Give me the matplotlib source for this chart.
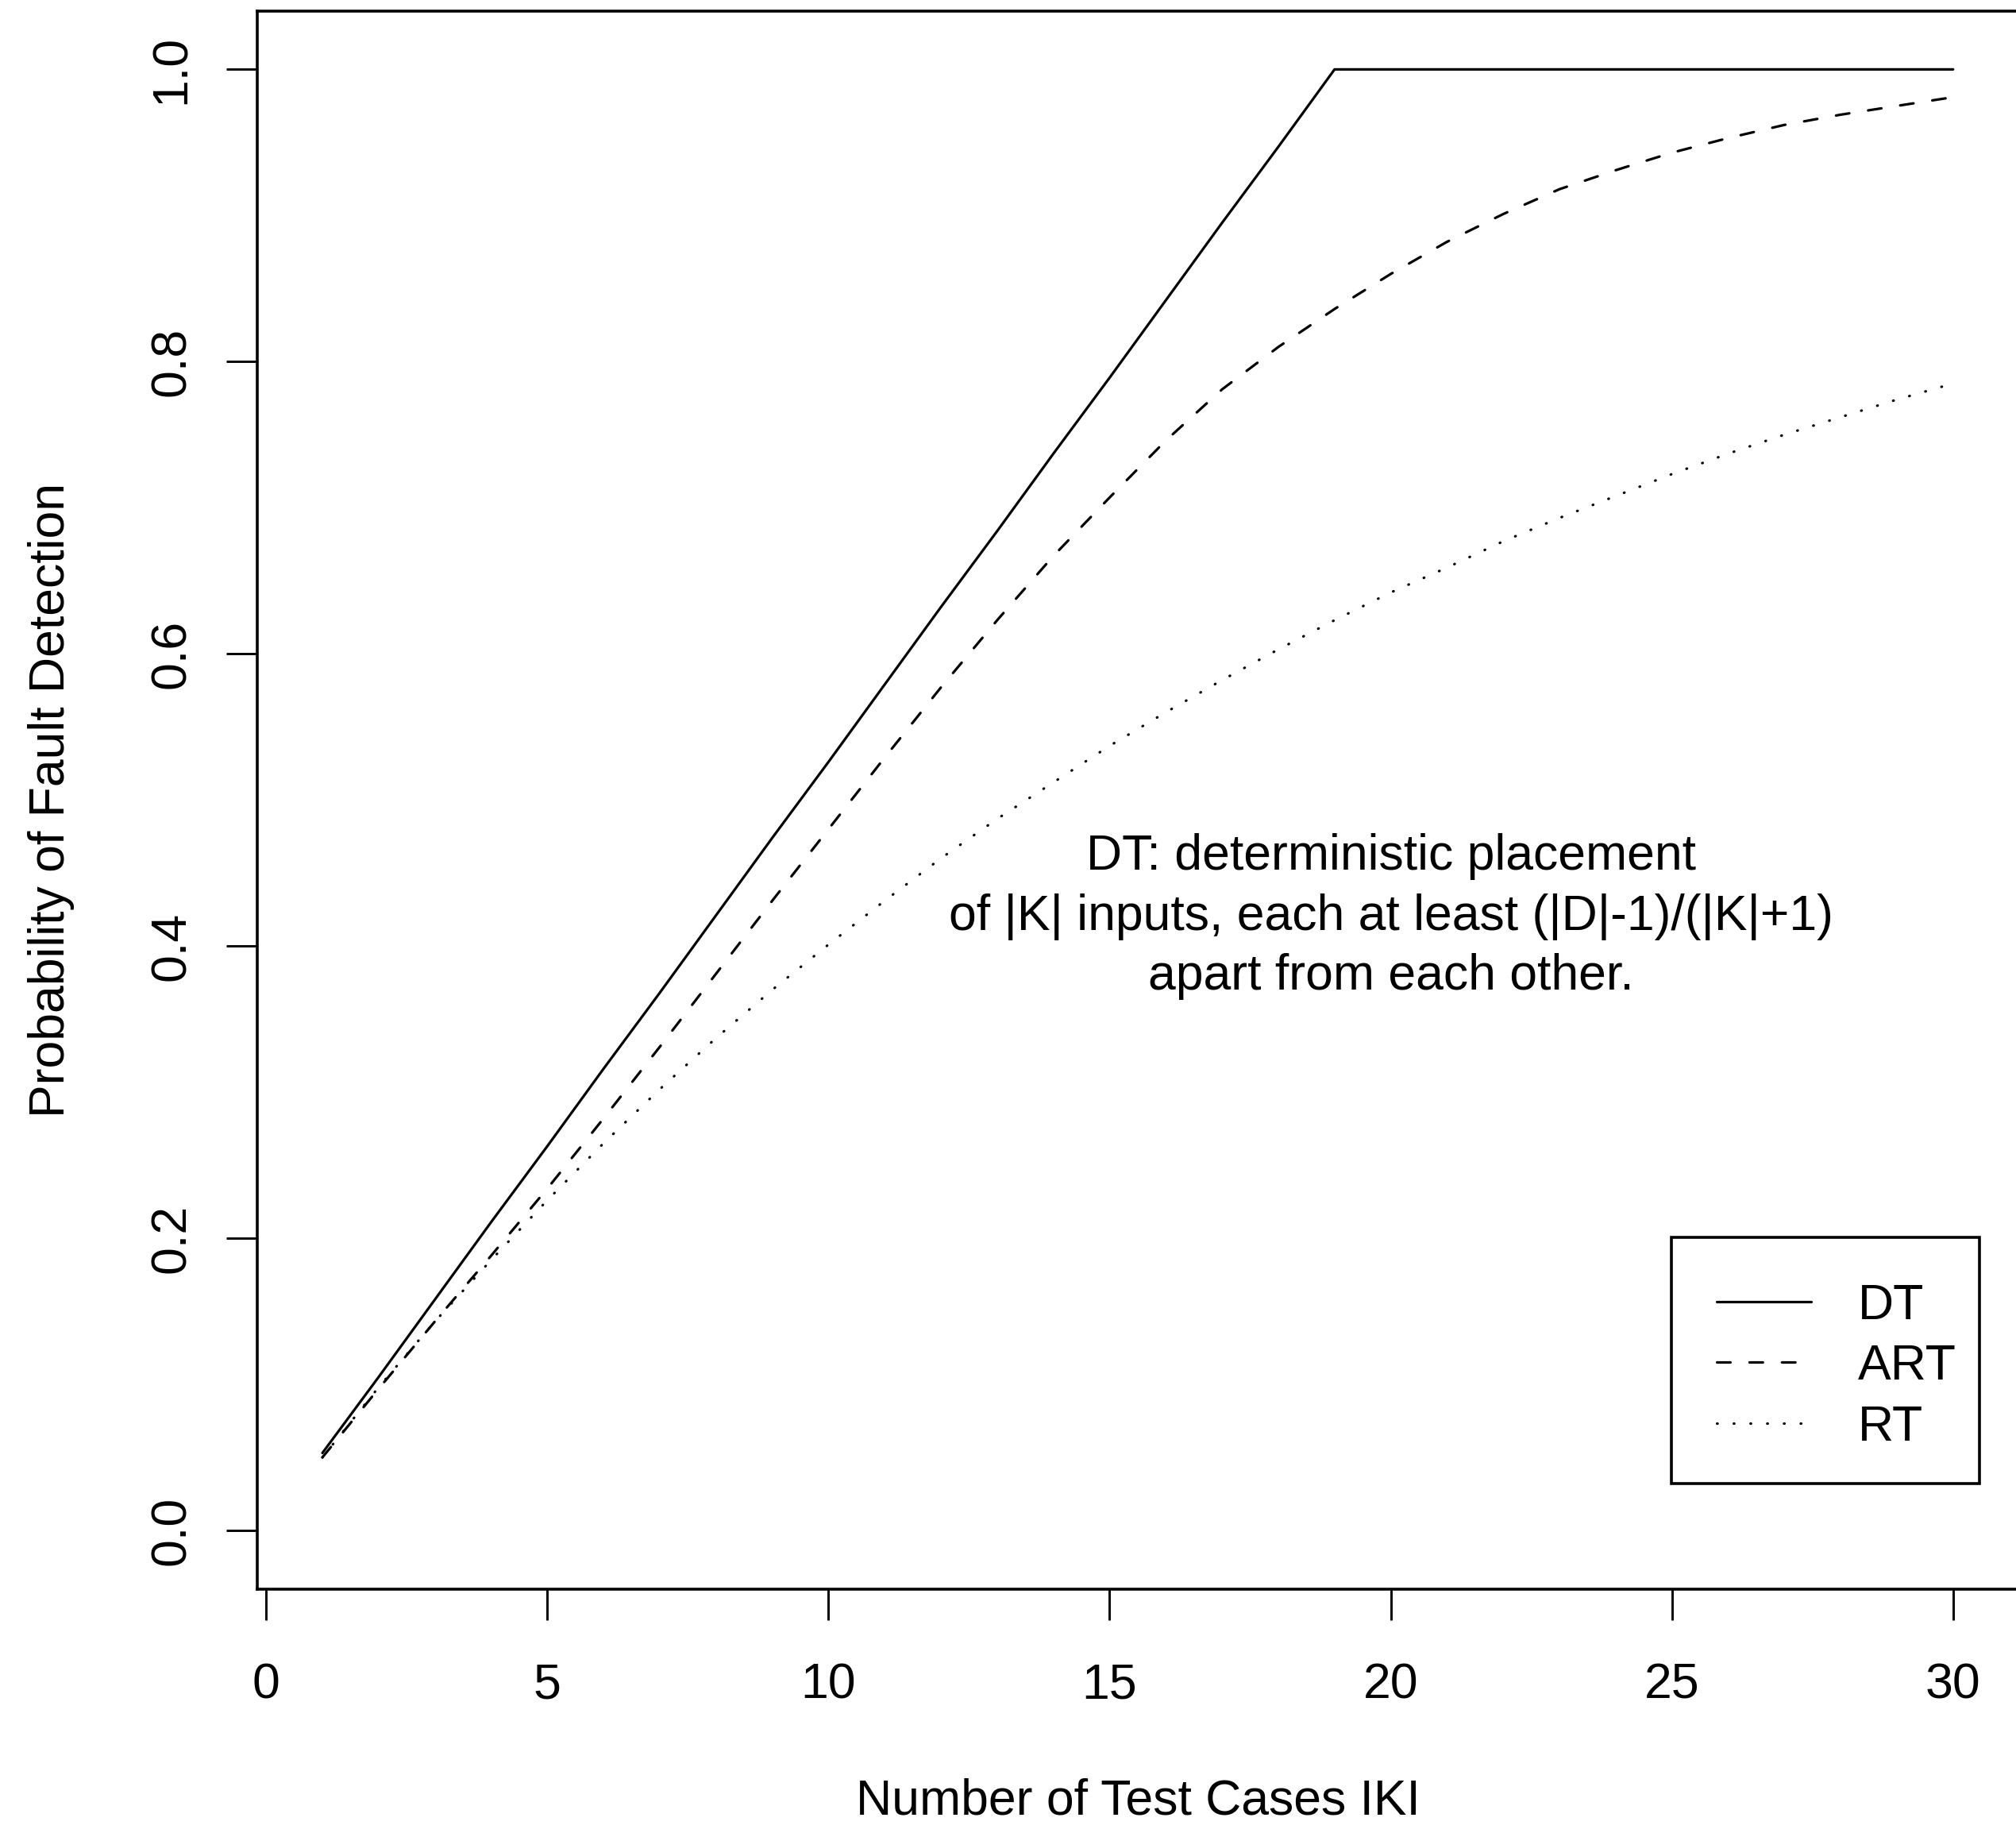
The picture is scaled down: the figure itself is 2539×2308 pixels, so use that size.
import matplotlib
matplotlib.use('Agg')
import matplotlib.pyplot as plt
from matplotlib.patches import Rectangle

plt.rcParams['font.family'] = ['Liberation Sans', 'DejaVu Sans']

# data
k = list(range(1, 31))
dt = [0.053, 0.105, 0.158, 0.211, 0.263, 0.316, 0.368, 0.421, 0.474, 0.526,
      0.579, 0.632, 0.684, 0.737, 0.789, 0.842, 0.895, 0.947, 1.000, 1.000,
      1.000, 1.000, 1.000, 1.000, 1.000, 1.000, 1.000, 1.000, 1.000, 1.000]
art = [0.050, 0.097, 0.143, 0.188, 0.234, 0.282, 0.331, 0.381, 0.431, 0.480,
       0.529, 0.577, 0.623, 0.667, 0.707, 0.746, 0.781, 0.810, 0.836, 0.860,
       0.882, 0.901, 0.918, 0.931, 0.943, 0.953, 0.962, 0.969, 0.975, 0.981]
rt = [0.050, 0.098, 0.143, 0.185, 0.226, 0.265, 0.302, 0.337, 0.370, 0.401,
      0.431, 0.460, 0.487, 0.512, 0.537, 0.560, 0.582, 0.603, 0.623, 0.642,
      0.659, 0.677, 0.693, 0.708, 0.723, 0.737, 0.750, 0.762, 0.774, 0.785]
x_ticks = [0, 5, 10, 15, 20, 25, 30]
y_ticks = [0.0, 0.2, 0.4, 0.6, 0.8, 1.0]
y_ticklabels = ['0.0', '0.2', '0.4', '0.6', '0.8', '1.0']

FS = 45
LW = 2.3

fig = plt.figure(figsize=(25.39, 23.08), dpi=100)
ax = fig.add_axes([0.12757, 0.13319, 0.87357, 0.86083])

ax.plot(k, dt, color='black', lw=LW, linestyle='-', solid_capstyle='round', label='DT')
ax.plot(k, art, color='black', lw=LW, linestyle=(0, (5.3, 7.5)),
        dash_capstyle='round', label='ART')
ax.plot(k, rt, color='black', lw=LW, linestyle=(0, (0.2, 6.4)),
        dash_capstyle='round', label='RT')

ax.set_xlim(-0.16, 31.16)
ax.set_ylim(-0.04, 1.04)
ax.set_xticks(x_ticks)
ax.set_xticklabels([str(v) for v in x_ticks])
ax.set_yticks(y_ticks)
ax.set_yticklabels(y_ticklabels, rotation=90, va='center')

for s in ax.spines.values():
    s.set_linewidth(2.6)
ax.tick_params(direction='out', length=28, width=2.1, labelsize=FS, color='black')
ax.tick_params(axis='x', pad=38)
ax.tick_params(axis='y', pad=28)

ax.set_xlabel('Number of Test Cases IKI', fontsize=FS, va='center')
ax.xaxis.set_label_coords(0.5, -0.1345)
ax.set_ylabel('Probability of Fault Detection', fontsize=FS, va='center', ha='center')
ax.yaxis.set_label_coords(-0.117, 0.5)

ax.text(20, 0.42, 'DT: deterministic placement\nof |K| inputs, each at least (|D|-1)/(|K|+1)\napart from each other.',
        fontsize=FS, ha='center', va='center', multialignment='center', linespacing=1.36)

# legend (frame drawn as its own box, R-style margins)
leg = ax.legend(loc='upper left', bbox_to_anchor=(0.8291, 0.3250), bbox_transform=fig.transFigure,
                borderaxespad=0, fontsize=FS, frameon=False,
                handlelength=1.9, handletextpad=0.95, labelspacing=0.28, borderpad=0.91)
fig.patches.append(Rectangle((2105 / 2539, 1 - 1868 / 2308), 388 / 2539, 310 / 2308,
                             transform=fig.transFigure, fill=False, edgecolor='black',
                             linewidth=2.6, zorder=5))

fig.savefig('out.png', dpi=100)
